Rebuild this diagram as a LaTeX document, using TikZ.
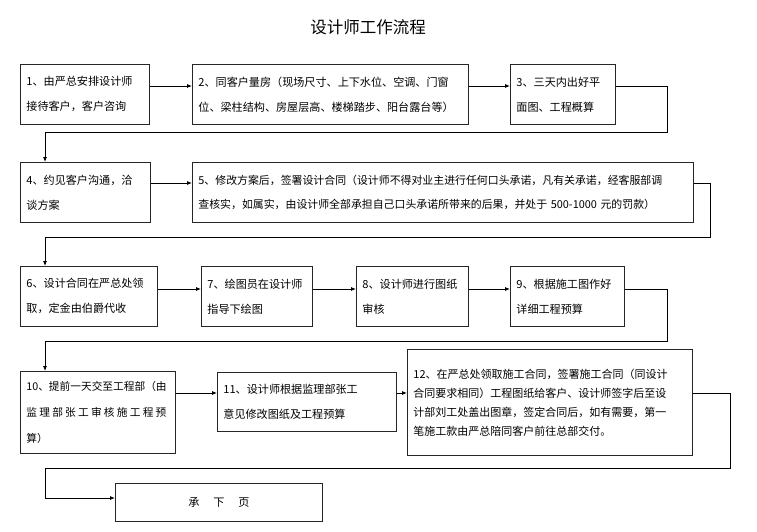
\documentclass[tikz,border=0pt]{standalone}
\usepackage{fontspec}
\setmainfont{Noto Sans CJK SC}
\usetikzlibrary{arrows.meta,calc}
\tikzset{
  box/.style={draw=black!85, line width=0.8pt, anchor=north west, align=left,
    inner xsep=6pt, inner ysep=0pt, font=\fontsize{11.1}{25}\selectfont},
  conn/.style={draw=black, line width=0.8pt},
  arr/.style={conn, -{Latex[length=5pt,width=4pt]}},
}
\begin{document}
\begin{tikzpicture}[x=1pt,y=-1pt]
\useasboundingbox (0,0) rectangle (757,532);
\fill[white] (0,0) rectangle (757,532);

\node[font=\fontsize{16.5}{18}\selectfont] (title) at (368,27) {设计师工作流程};

% row 1
\node[box, minimum width=129pt, minimum height=60pt, text width=117pt] (n1) at (20,64)
  {1、由严总安排设计师\\接待客户，客户咨询};
\node[box, minimum width=276pt, minimum height=60pt, text width=264pt] (n2) at (192,64)
  {2、同客户量房（现场尺寸、上下水位、空调、门窗\\位、梁柱结构、房屋层高、楼梯踏步、阳台露台等）};
\node[box, minimum width=105pt, minimum height=60pt, text width=93pt] (n3) at (510,64)
  {3、三天内出好平\\面图、工程概算};

% row 2
\node[box, minimum width=130pt, minimum height=60pt, text width=118pt] (n4) at (20,162)
  {4、约见客户沟通，洽\\谈方案};
\node[box, minimum width=501pt, minimum height=60pt, text width=489pt, font=\fontsize{10.9}{24}\selectfont] (n5) at (192,162)
  {5、修改方案后，签署设计合同（设计师不得对业主进行任何口头承诺，凡有关承诺，经客服部调\\查核实，如属实，由设计师全部承担自己口头承诺所带来的后果，并处于 500-1000 元的罚款）};

% row 3
\node[box, minimum width=137pt, minimum height=60pt, text width=125pt] (n6) at (20,266)
  {6、设计合同在严总处领\\取，定金由伯爵代收};
\node[box, minimum width=111pt, minimum height=60pt, text width=99pt] (n7) at (201,266)
  {7、绘图员在设计师\\指导下绘图};
\node[box, minimum width=112pt, minimum height=60pt, text width=100pt] (n8) at (356,266)
  {8、设计师进行图纸\\审核};
\node[box, minimum width=114pt, minimum height=60pt, text width=102pt] (n9) at (510,266)
  {9、根据施工图作好\\详细工程预算};

% row 4
\node[box, minimum width=155pt, minimum height=82pt, text width=143pt, font=\fontsize{10.7}{26}\selectfont] (n10) at (20,371)
  {10、提前一天交至工程部（由\\\makebox[140pt][s]{监\hfill 理\hfill 部\hfill 张\hfill 工\hfill 审\hfill 核\hfill 施\hfill 工\hfill 程\hfill 预}\\算）};
\node[box, minimum width=179pt, minimum height=59pt, text width=167pt] (n11) at (217,372)
  {11、设计师根据监理部张工\\意见修改图纸及工程预算};
\node[box, minimum width=285pt, minimum height=106pt, text width=273pt, font=\fontsize{11}{19}\selectfont] (n12) at (407,349)
  {12、在严总处领取施工合同，签署施工合同（同设计\\合同要求相同）工程图纸给客户、设计师签字后至设\\计部刘工处盖出图章，签定合同后，如有需要，第一\\笔施工款由严总陪同客户前往总部交付。};

% row 5
\node[box, minimum width=207pt, minimum height=38pt, text width=195pt, align=center] (n13) at (115,483)
  {承\hspace{14pt}下\hspace{14pt}页};

% row levels
\coordinate (r1) at (0,86);
\coordinate (r2) at (0,183);
\coordinate (r3) at (0,289);
\coordinate (r4) at (0,393);

% turn points
\coordinate (t1) at (667,132);
\coordinate (k1) at (45,132);
\coordinate (t2) at (710,237);
\coordinate (k2) at (45,237);
\coordinate (t3) at (667,341);
\coordinate (k3) at (45,341);
\coordinate (t4) at (730,468);
\coordinate (k4) at (45,468);
\coordinate (k5) at (45,498);

% row arrows
\draw[arr] (n1.east |- r1) -- (n2.west |- r1);
\draw[arr] (n2.east |- r1) -- (n3.west |- r1);
\draw[arr] (n4.east |- r2) -- (n5.west |- r2);
\draw[arr] (n6.east |- r3) -- (n7.west |- r3);
\draw[arr] (n7.east |- r3) -- (n8.west |- r3);
\draw[arr] (n8.east |- r3) -- (n9.west |- r3);
\draw[arr] (n10.east |- r4) -- (n11.west |- r4);
\draw[arr] (n11.east |- r4) -- (n12.west |- r4);

% returns
\draw[arr] (n3.east |- r1) -| (t1) -- (k1) -- (k1 |- n4.north);
\draw[arr] (n5.east |- r2) -| (t2) -- (k2) -- (k2 |- n6.north);
\draw[arr] (n9.east |- r3) -| (t3) -- (k3) -- (k3 |- n10.north);
\draw[arr] (n12.east |- r4) -| (t4) -- (k4) -- (k5) -- (n13.west |- k5);
\end{tikzpicture}
\end{document}
